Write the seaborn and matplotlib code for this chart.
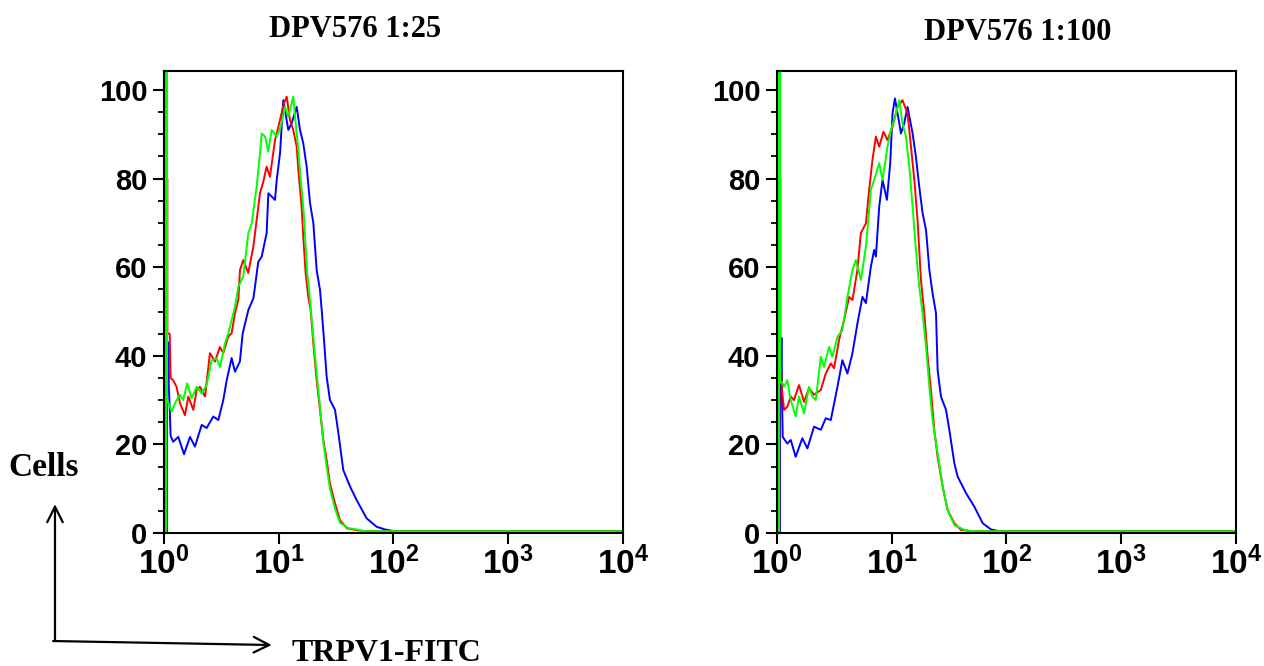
# Flow cytometry overlay: TRPV1-FITC histograms for two DPV576 dilutions
import numpy as np
import pandas as pd
import seaborn as sns
import matplotlib.pyplot as plt
from matplotlib.patches import FancyArrowPatch
from matplotlib.ticker import FixedLocator, LogLocator, MultipleLocator, NullFormatter

# values: log10(FITC intensity) and cell counts (% of max)
# the first channel of each histogram is a tall spike at the left edge
titles = ["DPV576 1:25", "DPV576 1:100"]
stains = ["blue", "red", "green"]
colors = {"blue": "#0000ff", "red": "#ff0000", "green": "#00ff00"}
xtick_exp = [0, 1, 2, 3, 4]

left_blue_log = [0.026, 0.026, 0.042, 0.042, 0.05, 0.058, 0.08, 0.125, 0.175, 0.227, 0.27, 0.329, 0.372, 0.43,
                 0.474, 0.517, 0.547, 0.59, 0.619, 0.662, 0.686, 0.735, 0.78, 0.822, 0.852, 0.895, 0.91, 0.968,
                 0.983, 1.012, 1.04, 1.084, 1.113, 1.157, 1.186, 1.214, 1.244, 1.273, 1.302, 1.331, 1.36, 1.375,
                 1.395, 1.418, 1.447, 1.491, 1.52, 1.563, 1.622, 1.68, 1.767, 1.854, 1.927, 2.01, 4.0]
left_blue_cells = [0, 43, 43, 33.4, 28.5, 22, 20.6, 21.7, 17.8, 21.7, 19.5, 24.4, 23.7, 26.3,
                   25.5, 30, 34.5, 39.5, 36.4, 38.7, 45, 50.3, 53, 61.2, 62.4, 67.7, 76.7, 75.2,
                   79.7, 85.8, 97.7, 91, 92.5, 96.2, 91, 88, 82.7, 74.5, 70, 59.4, 54.9, 50.3,
                   43.6, 35.3, 30, 27.8, 22.6, 14.2, 10.5, 7.4, 3.3, 1.4, 0.8, 0.4, 0.4]

left_red_log = [0.02, 0.02, 0.03, 0.03, 0.05, 0.058, 0.08, 0.11, 0.14, 0.183, 0.212, 0.256, 0.285, 0.314,
                0.358, 0.401, 0.445, 0.488, 0.517, 0.56, 0.59, 0.619, 0.648, 0.663, 0.691, 0.735, 0.779, 0.837,
                0.866, 0.895, 0.924, 0.968, 0.997, 1.046, 1.07, 1.099, 1.127, 1.157, 1.171, 1.2, 1.214, 1.235,
                1.258, 1.279, 1.302, 1.331, 1.36, 1.389, 1.418, 1.447, 1.491, 1.534, 1.593, 1.665, 1.75, 4.0]
left_red_cells = [0, 80, 80, 45, 45, 35, 34.5, 33, 29.3, 26.6, 30.8, 27.8, 32.3, 33,
                  30.8, 40.6, 38.7, 42, 40.6, 44.3, 45.1, 49.6, 52.6, 59.4, 61.6, 58.7, 64.6, 76.7,
                  79.3, 82.7, 80.4, 88.7, 91.7, 97, 98.5, 93.2, 91, 87.2, 82, 73.7, 66.9, 58.7,
                  53.3, 50.3, 42.8, 34.5, 27.8, 21, 16.5, 11.2, 6.7, 2.9, 1.1, 0.7, 0.4, 0.4]

left_green_log = [0.018, 0.018, 0.027, 0.027, 0.045, 0.067, 0.096, 0.139, 0.168, 0.203, 0.241, 0.285, 0.329,
                  0.372, 0.416, 0.459, 0.488, 0.532, 0.561, 0.59, 0.619, 0.648, 0.691, 0.735, 0.765, 0.808,
                  0.837, 0.852, 0.881, 0.909, 0.939, 0.983, 1.017, 1.055, 1.084, 1.127, 1.151, 1.171, 1.192,
                  1.214, 1.229, 1.249, 1.273, 1.302, 1.331, 1.36, 1.389, 1.418, 1.447, 1.491, 1.534, 1.607,
                  1.68, 1.75, 4.0]
left_green_cells = [0, 110, 110, 30, 29, 27.4, 29.3, 31.2, 30, 33.8, 30.4, 33, 31.5,
                    33.4, 39, 39.4, 37.5, 42.8, 45.1, 48.1, 51, 55.6, 57.9, 67.6, 69.9, 78.2,
                    85.7, 90.2, 89.5, 86.1, 91, 89.5, 91.7, 96.2, 94, 98.5, 91.7, 86.5, 79.7,
                    73.7, 67.6, 58.6, 52.6, 44, 36, 28.5, 20.5, 15, 10, 5.5, 2.3, 1.1,
                    0.8, 0.4, 0.4]

right_blue_log = [0.026, 0.026, 0.042, 0.042, 0.05, 0.09, 0.12, 0.163, 0.221, 0.265, 0.323, 0.382, 0.425,
                  0.469, 0.527, 0.57, 0.614, 0.658, 0.701, 0.745, 0.775, 0.818, 0.847, 0.862, 0.891, 0.92,
                  0.958, 0.987, 1.007, 1.028, 1.066, 1.08, 1.109, 1.138, 1.182, 1.211, 1.24, 1.269, 1.299,
                  1.328, 1.356, 1.386, 1.4, 1.429, 1.473, 1.502, 1.546, 1.575, 1.648, 1.721, 1.793, 1.866,
                  1.939, 4.0]
right_blue_cells = [0, 44, 44, 33, 21.7, 20.2, 21, 17.2, 21.4, 19.1, 24, 23.3, 25.9,
                    25.5, 33, 39, 36, 40.6, 47.3, 53.3, 51.9, 60.1, 63.9, 62.4, 73.7, 79.7,
                    75.2, 83.5, 94.7, 98.1, 92.5, 90.2, 92.5, 96.2, 90.2, 84.9, 78.2, 72.2, 68.4,
                    59.4, 54.1, 49.6, 36.8, 30.8, 27.8, 23.3, 15.7, 12.7, 9, 5.9, 2.2, 0.8,
                    0.4, 0.4]

right_red_log = [0.02, 0.02, 0.03, 0.03, 0.045, 0.061, 0.09, 0.12, 0.148, 0.192, 0.236, 0.279, 0.323,
                 0.382, 0.425, 0.469, 0.498, 0.541, 0.585, 0.629, 0.658, 0.701, 0.731, 0.775, 0.803, 0.832,
                 0.862, 0.891, 0.928, 0.963, 1.007, 1.051, 1.094, 1.138, 1.168, 1.197, 1.225, 1.255, 1.284,
                 1.313, 1.342, 1.371, 1.4, 1.444, 1.487, 1.546, 1.604, 1.7, 4.0]
right_red_cells = [0, 80, 80, 40, 32, 27.8, 28.5, 30.8, 30, 33.4, 29.6, 32.7, 31.2,
                   32.3, 36, 38.3, 37.2, 43.6, 48.1, 53.3, 52.6, 59.4, 67.7, 69.9, 77.4, 84.2,
                   89.5, 87.2, 90.6, 88.7, 91.7, 96.2, 97.7, 94.7, 87.2, 79.7, 70.7, 57.1, 49.6,
                   39.8, 32.3, 23.3, 17.2, 10.5, 5.2, 2.2, 0.7, 0.4, 0.4]

right_green_log = [0.018, 0.018, 0.027, 0.027, 0.045, 0.061, 0.09, 0.12, 0.163, 0.192, 0.236, 0.279, 0.308,
                   0.338, 0.382, 0.41, 0.454, 0.483, 0.527, 0.57, 0.614, 0.658, 0.687, 0.731, 0.775, 0.818,
                   0.847, 0.891, 0.92, 0.963, 0.993, 1.037, 1.066, 1.094, 1.124, 1.153, 1.182, 1.211, 1.24,
                   1.269, 1.299, 1.328, 1.356, 1.4, 1.444, 1.487, 1.546, 1.633, 1.7, 4.0]
right_green_cells = [0, 110, 110, 34, 34, 33, 34.5, 30, 26.3, 30.8, 27, 33, 30.8,
                     30, 39.8, 37.5, 42, 39.8, 44.3, 45.8, 53.3, 59.4, 61.6, 57.1, 64.6, 77.4,
                     79.7, 83.5, 79.7, 87.2, 91, 94.7, 97.7, 92.5, 89.5, 82.7, 73.7, 63.9, 55.6,
                     49.6, 42, 33, 25.5, 18, 10.5, 5.2, 1.8, 0.7, 0.4, 0.4]

panels = [
    {"blue": (left_blue_log, left_blue_cells), "red": (left_red_log, left_red_cells),
     "green": (left_green_log, left_green_cells)},
    {"blue": (right_blue_log, right_blue_cells), "red": (right_red_log, right_red_cells),
     "green": (right_green_log, right_green_cells)},
]


def panel_frame(curves):
    parts = []
    for stain in stains:
        logs, cells = curves[stain]
        parts.append(pd.DataFrame({"fitc": 10 ** np.array(logs), "cells": cells, "stain": stain}))
    return pd.concat(parts, ignore_index=True)


sns.set_style("ticks")
plt.rcParams["font.family"] = ["Liberation Sans", "DejaVu Sans"]
plt.rcParams["font.weight"] = "bold"
plt.rcParams["text.color"] = "black"
plt.rcParams["xtick.labelcolor"] = "black"
plt.rcParams["ytick.labelcolor"] = "black"
plt.rcParams["mathtext.fontset"] = "custom"
plt.rcParams["mathtext.rm"] = "Liberation Sans:bold"
plt.rcParams["mathtext.it"] = "Liberation Sans:bold"
plt.rcParams["mathtext.bf"] = "Liberation Sans:bold"

fig = plt.figure(figsize=(12.64, 6.66), dpi=100)
axes = [fig.add_axes([0.1297, 0.1997, 0.3631, 0.6937]),
        fig.add_axes([0.6147, 0.1997, 0.3631, 0.6937])]

for ax, curves in zip(axes, panels):
    ax.set_xscale("log")
    df = panel_frame(curves)
    sns.lineplot(data=df, x="fitc", y="cells", hue="stain", hue_order=stains, palette=colors,
                 estimator=None, sort=False, lw=1.4, legend=False, ax=ax)
    ax.set_xlim(1, 1e4)
    ax.set_ylim(0, 104.3)
    ax.xaxis.set_major_locator(FixedLocator([10 ** e for e in xtick_exp]))
    ax.set_xticklabels([r"$10^{%d}$" % e for e in xtick_exp])
    ax.xaxis.set_minor_locator(LogLocator(base=10, subs=np.arange(2, 10)))
    ax.xaxis.set_minor_formatter(NullFormatter())
    ax.yaxis.set_major_locator(MultipleLocator(20))
    ax.yaxis.set_minor_locator(MultipleLocator(5))
    ax.tick_params(which="major", direction="out", length=8, width=1.5, color="black")
    ax.tick_params(which="minor", direction="out", length=4, width=1.3, color="black")
    ax.tick_params(axis="y", which="major", labelsize=21, pad=4, labelcolor="black")
    ax.tick_params(axis="x", which="major", labelsize=24, pad=2, labelcolor="black")
    ax.set_xlabel("")
    ax.set_ylabel("")
    for side in ax.spines.values():
        side.set_linewidth(1.5)
        side.set_color("black")

serif = ["Liberation Serif", "DejaVu Serif"]
fig.text(0.281, 0.944, titles[0], ha="center", va="baseline", fontsize=22, fontweight="bold", family=serif)
fig.text(0.805, 0.940, titles[1], ha="center", va="baseline", fontsize=22, fontweight="bold", family=serif)
fig.text(0.007, 0.285, "Cells", ha="left", va="baseline", fontsize=24, fontweight="bold", family=serif)
fig.text(0.231, 0.008, "TRPV1-FITC", ha="left", va="baseline", fontsize=23, fontweight="bold", family=serif)

# axis arrows in the lower-left corner
fig.add_artist(FancyArrowPatch((0.0435, 0.0375), (0.0435, 0.243), transform=fig.transFigure,
                               arrowstyle="->", mutation_scale=28, lw=1.6, color="black",
                               shrinkA=0, shrinkB=0))
fig.add_artist(FancyArrowPatch((0.042, 0.0375), (0.215, 0.0315), transform=fig.transFigure,
                               arrowstyle="->", mutation_scale=28, lw=1.6, color="black",
                               shrinkA=0, shrinkB=0))

fig.savefig("out.png", dpi=100)
